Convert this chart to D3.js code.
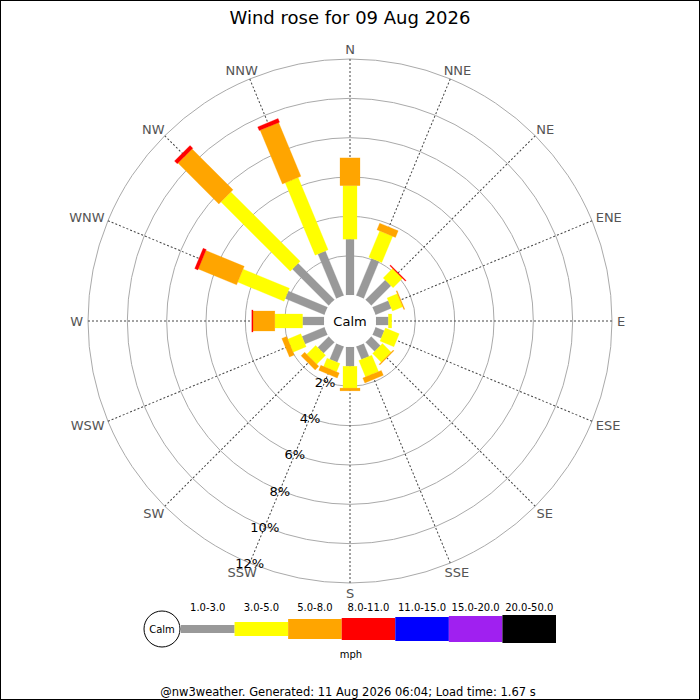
<!DOCTYPE html>
<html>
<head>
<meta charset="utf-8">
<script src="https://cdn.jsdelivr.net/npm/d3@7"></script>
<style>
  body { margin: 0; background: #fff; }
  svg { display: block; font-family: "DejaVu Sans", sans-serif; }
</style>
</head>
<body>
<svg id="chart"></svg>
<script>
var directions = ['N', 'NNE', 'NE', 'ENE', 'E', 'ESE', 'SE', 'SSE',
                  'S', 'SSW', 'SW', 'WSW', 'W', 'WNW', 'NW', 'NNW'];

var speedBands = ['1.0-3.0', '3.0-5.0', '5.0-8.0', '8.0-11.0', '11.0-15.0', '15.0-20.0', '20.0-50.0'];
var bandColours = ['#999999', '#ffff00', '#ffa500', '#ff0000', '#0000ff', '#a020f0', '#000000'];

// percent of time per direction, one list per speed band
var band1 = [2.84, 2.04, 1.42, 0.87, 0.63, 0.48, 0.66, 0.71, 0.98, 0.87, 0.79, 1.24, 1.09, 2.16, 2.62, 2.45];
var band2 = [2.72, 1.45, 0.68, 0.56, 0.17, 0.76, 0.62, 0.90, 1.11, 0.46, 0.64, 0.72, 1.41, 2.55, 4.98, 3.98];
var band3 = [1.41, 0.36, 0.00, 0.05, 0.00, 0.00, 0.05, 0.27, 0.14, 0.27, 0.26, 0.26, 1.11, 2.11, 2.94, 2.96];
var band4 = [0.00, 0.00, 0.05, 0.00, 0.00, 0.00, 0.00, 0.00, 0.00, 0.00, 0.00, 0.00, 0.06, 0.17, 0.20, 0.20];
var band5 = [0, 0, 0, 0, 0, 0, 0, 0, 0, 0, 0, 0, 0, 0, 0, 0];
var band6 = [0, 0, 0, 0, 0, 0, 0, 0, 0, 0, 0, 0, 0, 0, 0, 0];
var band7 = [0, 0, 0, 0, 0, 0, 0, 0, 0, 0, 0, 0, 0, 0, 0, 0];

var ringTicks = [2, 4, 6, 8, 10, 12];

var width = 700,
    height = 700,
    cx = 350,
    cy = 321,
    calmR = 26;

var bandWidths = [8, 14, 20, 22, 24, 26, 28];

var svg = d3.select('#chart')
    .attr('width', width)
    .attr('height', height);

svg.append('rect')
  .attr('x', 0.5).attr('y', 0.5)
  .attr('width', width - 1).attr('height', height - 1)
  .attr('fill', '#fff')
  .attr('stroke', '#000');

svg.append('text')
  .text('Wind rose for 09 Aug 2026')
  .attr('x', width / 2)
  .attr('y', 24)
  .attr('font-size', 18)
  .attr('fill', '#000')
  .style('text-anchor', 'middle');

var r = d3.scaleLinear().domain([0, 12]).range([calmR, 262]);
var angle = d3.scaleLinear().domain([0, directions.length]).range([0, 360]);

var rose = svg.append('g')
    .attr('transform', 'translate(' + cx + ',' + cy + ')');

// rings
rose.selectAll('circle.ring')
  .data(ringTicks)
  .enter().append('circle')
  .attr('class', 'ring')
  .attr('r', function(d) { return r(d); })
  .attr('fill', 'none')
  .attr('stroke', '#aaa')
  .attr('stroke-width', 1);

// spokes
rose.selectAll('line.spoke')
  .data(directions)
  .enter().append('line')
  .attr('class', 'spoke')
  .attr('x1', 0).attr('y1', 0)
  .attr('x2', 0).attr('y2', -r(12))
  .attr('transform', function(d, i) { return 'rotate(' + angle(i) + ')'; })
  .attr('stroke', '#444')
  .attr('stroke-width', 1)
  .attr('stroke-dasharray', '2,2');

// direction labels, boxed outside the outer ring
rose.selectAll('text.dir')
  .data(directions)
  .enter().append('text')
  .attr('class', 'dir')
  .text(function(d) { return d; })
  .attr('font-size', 13)
  .attr('fill', '#555')
  .each(function(d, i) {
    var a = angle(i) * Math.PI / 180,
        s = Math.sin(a), c = Math.cos(a),
        ax = (r(12) + 5) * s,
        ay = -(r(12) + 5) * c,
        w = this.getComputedTextLength(),
        h = 10;
    d3.select(this)
      .attr('x', ax - (0.5 - 0.5 * s) * w)
      .attr('y', ay - (0.5 + 0.5 * c) * h + h);
  });

// stacked bars
var table = directions.map(function(d, i) {
  return { dir: d, b0: band1[i], b1: band2[i], b2: band3[i], b3: band4[i],
           b4: band5[i], b5: band6[i], b6: band7[i] };
});
var stack = d3.stack().keys(['b0', 'b1', 'b2', 'b3', 'b4', 'b5', 'b6']);
var series = stack(table);

series.forEach(function(s, k) {
  rose.selectAll('rect.band' + k)
    .data(s.filter(function(d) { return d[1] - d[0] > 0; }))
    .enter().append('rect')
    .attr('class', 'band' + k)
    .attr('x', -bandWidths[k] / 2)
    .attr('y', function(d) { return -r(d[1]); })
    .attr('width', bandWidths[k])
    .attr('height', function(d) { return r(d[1]) - r(d[0]); })
    .attr('transform', function(d) { return 'rotate(' + angle(directions.indexOf(d.data.dir)) + ')'; })
    .attr('fill', bandColours[k])
    .attr('stroke', bandColours[k])
    .attr('stroke-opacity', 0.5)
    .attr('stroke-width', 0.5);
});

// calm
rose.append('circle')
  .attr('r', calmR)
  .attr('fill', '#fff');

rose.append('text')
  .text('Calm')
  .attr('y', 0)
  .attr('dy', '0.36em')
  .attr('font-size', 13)
  .attr('fill', '#000')
  .style('text-anchor', 'middle');

// percent labels along SSW
var ssw = angle(9) * Math.PI / 180;
rose.selectAll('text.pct')
  .data(ringTicks)
  .enter().append('text')
  .attr('class', 'pct')
  .text(function(d) { return d + '%'; })
  .attr('x', function(d) { return r(d) * Math.sin(ssw); })
  .attr('y', function(d) { return -r(d) * Math.cos(ssw); })
  .attr('dy', '0.4em')
  .attr('font-size', 13)
  .attr('fill', '#000')
  .style('text-anchor', 'middle');

// legend
var legendY = 629;
var lx = d3.scaleBand().domain(speedBands).range([181, 556]);

svg.append('circle')
  .attr('cx', 162).attr('cy', legendY).attr('r', 18)
  .attr('fill', '#fff')
  .attr('stroke', '#000');

svg.append('text')
  .text('Calm')
  .attr('x', 162).attr('y', legendY)
  .attr('dy', '0.36em')
  .attr('font-size', 10)
  .attr('fill', '#000')
  .style('text-anchor', 'middle');

svg.selectAll('rect.key')
  .data(speedBands)
  .enter().append('rect')
  .attr('class', 'key')
  .attr('x', function(d) { return lx(d); })
  .attr('y', function(d, i) { return legendY - bandWidths[i] / 2; })
  .attr('width', lx.bandwidth())
  .attr('height', function(d, i) { return bandWidths[i]; })
  .attr('fill', function(d, i) { return bandColours[i]; });

svg.selectAll('text.key')
  .data(speedBands)
  .enter().append('text')
  .attr('class', 'key')
  .text(function(d) { return d; })
  .attr('x', function(d) { return lx(d) + lx.bandwidth() / 2; })
  .attr('y', 611)
  .attr('font-size', 10)
  .attr('fill', '#000')
  .style('text-anchor', 'middle');

svg.append('text')
  .text('mph')
  .attr('x', 351)
  .attr('y', 658)
  .attr('font-size', 10)
  .attr('fill', '#000')
  .style('text-anchor', 'middle');

svg.append('text')
  .text('@nw3weather. Generated: 11 Aug 2026 06:04; Load time: 1.67 s')
  .attr('x', 348)
  .attr('y', 696)
  .attr('font-size', 11.5)
  .attr('fill', '#000')
  .style('text-anchor', 'middle');
</script>
</body>
</html>
